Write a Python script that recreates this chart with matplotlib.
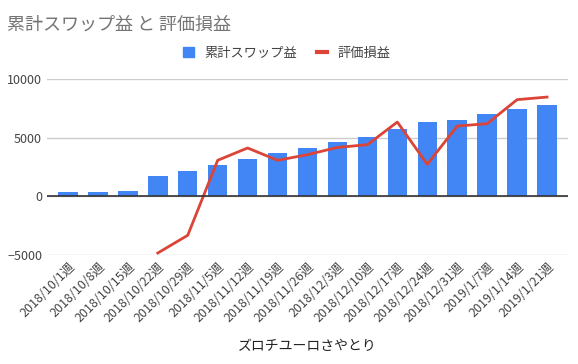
import numpy as np
import matplotlib
matplotlib.use("Agg")
import matplotlib.pyplot as plt
from matplotlib.lines import Line2D
from matplotlib.patches import Patch

plt.rcParams['font.family'] = ['Noto Sans CJK JP', 'DejaVu Sans']

weeks = [
    "2018/10/1週", "2018/10/8週", "2018/10/15週", "2018/10/22週", "2018/10/29週",
    "2018/11/5週", "2018/11/12週", "2018/11/19週", "2018/11/26週", "2018/12/3週",
    "2018/12/10週", "2018/12/17週", "2018/12/24週", "2018/12/31週", "2019/1/7週",
    "2019/1/14週", "2019/1/21週",
]
swap_total = [340, 350, 430, 1700, 2200, 2640, 3150, 3660, 4090, 4600,
              5030, 5710, 6300, 6480, 6990, 7410, 7750]
# 評価損益 starts from the 4th week
pnl = [np.nan, np.nan, np.nan, -4830, -3320, 3070, 4120, 3070, 3550, 4170,
       4400, 6330, 2730, 5990, 6190, 8240, 8460]

BLUE = "#4285F4"
RED = "#DB4437"

fig = plt.figure(figsize=(5.78, 3.64), dpi=100)
ax = fig.add_axes([47 / 578, 1 - 255 / 364, (568 - 47) / 578, (255 - 79) / 364])

x = np.arange(len(weeks))
ax.bar(x, swap_total, width=0.65, color=BLUE, zorder=2)
ax.plot(x, pnl, color=RED, lw=2, zorder=3)

ax.set_xlim(-0.7, len(weeks) - 0.3)
ax.set_ylim(-5000, 10000)
ax.set_yticks([-5000, 0, 5000, 10000])
ax.yaxis.grid(True, color="#cccccc", lw=1, zorder=0)
ax.axhline(0, color="#333333", lw=1.2, zorder=4)
for s in ax.spines.values():
    s.set_visible(False)
ax.tick_params(axis="both", length=0, colors="#444444", labelsize=9)
ax.tick_params(axis="x", pad=4)
ax.set_xticks(x)
ax.set_xticklabels(weeks, rotation=45, ha="right", va="top", rotation_mode="anchor")

ax.set_xlabel("ズロチユーロさやとり", fontsize=10, color="#222222", labelpad=10)

fig.text(7 / 578, 1 - 25 / 364, "累計スワップ益 と 評価損益", fontsize=13,
         color="#757575", va="center", ha="left")

handles = [Patch(color=BLUE), Line2D([], [], color=RED, lw=3)]
leg = fig.legend(handles, ["累計スワップ益", "評価損益"], loc="center",
                 bbox_to_anchor=(287 / 578, 1 - 53 / 364), ncol=2,
                 frameon=False, fontsize=9.5, handlelength=0.8, handleheight=0.8,
                 columnspacing=1.5, handletextpad=0.8)
for t in leg.get_texts():
    t.set_color("#444444")

fig.savefig("out.png", dpi=100)
